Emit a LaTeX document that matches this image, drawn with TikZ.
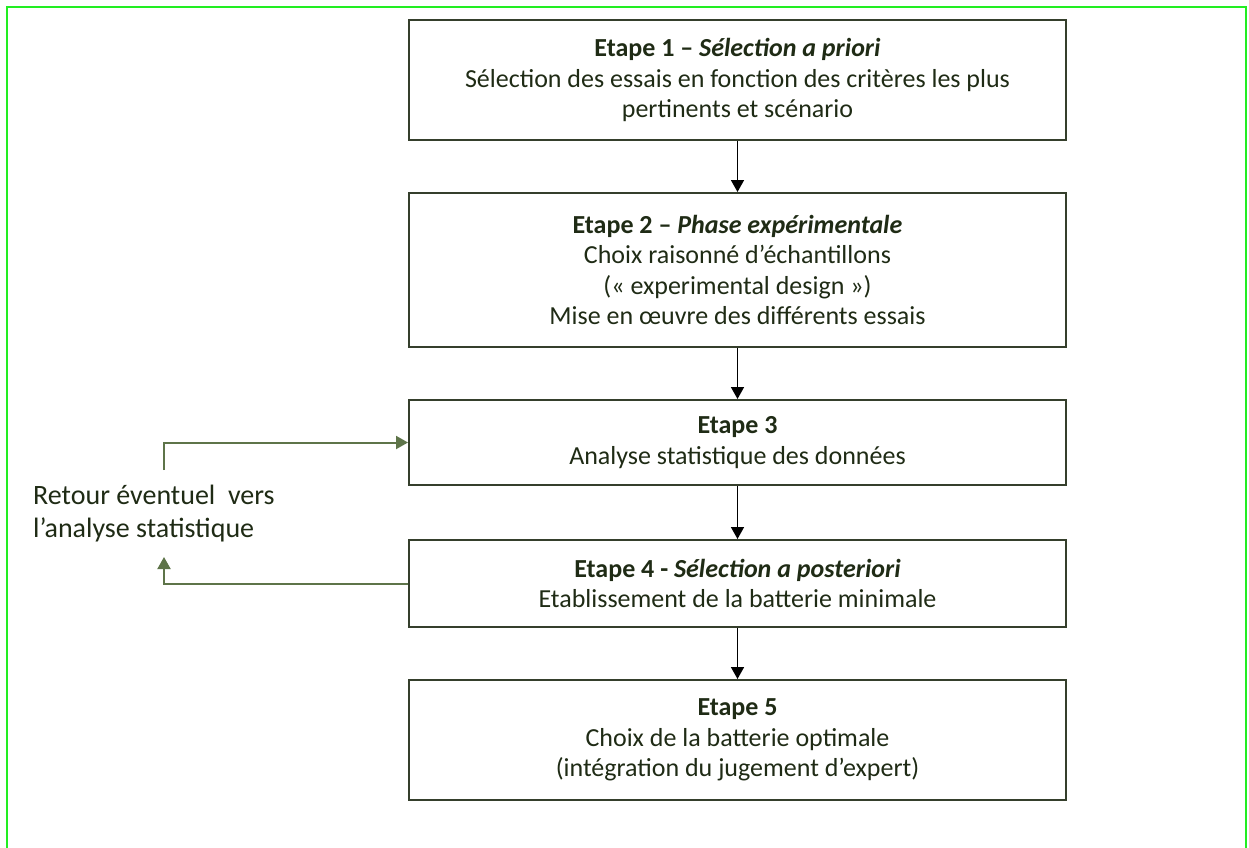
\documentclass[tikz,border=0pt]{standalone}
\usepackage{fontspec}
\setmainfont{Carlito}
\usetikzlibrary{arrows.meta}
\definecolor{txt}{HTML}{1F2B15}
\definecolor{boxline}{HTML}{353F2C}
\definecolor{fbline}{HTML}{5E7449}
\definecolor{frame}{HTML}{22EE22}
\tikzset{
  stepbox/.style={draw=boxline, line width=2pt, minimum width=657pt, inner sep=0pt,
    align=center, text=txt, font=\fontsize{26}{30.5}\selectfont},
  flow/.style={draw=black, line width=1.6pt, -{Triangle[width=13pt,length=12pt]}},
  fb/.style={draw=fbline, line width=2pt, -{Triangle[width=13pt,length=12pt]}},
  lbl/.style={text=txt, align=left, anchor=west, inner sep=0pt, font=\fontsize{28}{33}\selectfont}
}
\begin{document}
\begin{tikzpicture}[x=1pt,y=-1pt]
\useasboundingbox (0,0) rectangle (1249,847);
\draw[frame, line width=2pt] (7,860) -- (7,7) -- (1246,7) -- (1246,860);
\node[stepbox, minimum height=120pt] (s1) at (737.5,80)
  {\textbf{Etape 1 – \textit{Sélection a priori}}\\Sélection des essais en fonction des critères les plus\\pertinents et scénario};
\node[stepbox, minimum height=154pt] (s2) at (737.5,270)
  {\textbf{Etape 2 – \textit{Phase expérimentale}}\\Choix raisonné d’échantillons\\(« experimental design »)\\Mise en œuvre des différents essais};
\node[stepbox, minimum height=85pt] (s3) at (737.5,442.5)
  {\textbf{Etape 3}\\Analyse statistique des données};
\node[stepbox, minimum height=87pt] (s4) at (737.5,583.5)
  {\textbf{Etape 4 - \textit{Sélection a posteriori}}\\Etablissement de la batterie minimale};
\node[stepbox, minimum height=120pt] (s5) at (737.5,740)
  {\textbf{Etape 5}\\Choix de la batterie optimale\\(intégration du jugement d’expert)};
\node[lbl] (ret) at (33,514) {Retour éventuel\ \ vers\\l’analyse statistique};
\coordinate (fbtop) at (164,470);
\coordinate (fbbot) at (164,557);
\draw[flow] (s1) -- (s2);
\draw[flow] (s2) -- (s3);
\draw[flow] (s3) -- (s4);
\draw[flow] (s4) -- (s5);
\draw[fb] (fbtop) |- (s3.west);
\draw[fb] (s4.west) -| (fbbot);
\end{tikzpicture}
\end{document}
